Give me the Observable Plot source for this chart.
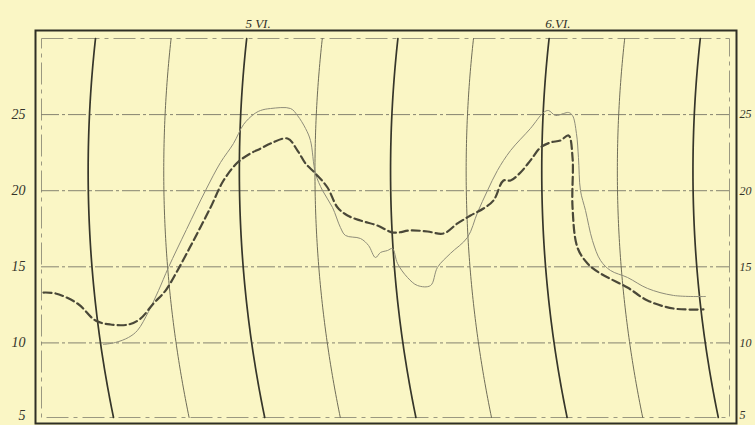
<!DOCTYPE html>
<html><head><meta charset="utf-8">
<script src="https://cdn.jsdelivr.net/npm/d3@7"></script>
<script src="https://cdn.jsdelivr.net/npm/@observablehq/plot@0.6"></script>
<style>html,body{margin:0;padding:0;background:#faf6c5;overflow:hidden}svg{overflow:hidden}</style>
</head><body><div id="chart"></div>
<script>
// Time in hours from 5 VI 0h; temperature in °C
const solidHours = [0.63,1.59,2.62,3.33,4.21,5.00,5.79,7.22,8.73,9.92,10.95,11.75,12.54,13.10,13.89,15.48,16.03,16.67,17.06,17.46,18.02,18.81,19.44,19.84,21.03,21.67,22.22,22.62,23.17,23.57,23.97,24.76,25.56,26.59,27.14,28.17,29.52,30.32,31.11,31.90,32.94,34.52,35.56,35.95,36.51,37.14,37.54,37.86,38.17,38.33,38.49,38.89,39.44,40.08,40.87,42.22,43.81,45.87,48.41];
const solidTemps = [9.90,10.03,10.36,10.82,12.06,13.44,14.96,17.45,20.01,21.85,23.10,24.35,25.01,25.27,25.40,25.40,24.94,24.09,23.30,21.13,20.01,18.90,17.58,17.06,16.86,16.40,15.61,15.94,16.07,16.20,15.22,14.30,13.77,13.77,14.96,15.88,16.93,18.57,20.01,21.33,22.64,24.09,25.14,25.27,24.94,25.07,25.14,24.94,23.76,22.18,20.01,18.70,16.73,15.42,14.76,14.30,13.58,13.12,13.05];
const dashedHours = [-4.13,-3.17,-1.43,0.00,1.19,2.62,3.57,4.60,5.56,6.51,7.78,9.13,10.16,11.27,12.30,13.10,13.89,15.24,16.03,16.67,17.46,18.41,19.21,20.00,21.03,22.38,23.65,25.00,26.35,27.62,28.73,29.76,30.79,31.59,32.38,32.94,33.73,34.52,35.32,36.11,36.90,37.54,37.86,37.86,38.25,39.05,40.08,42.22,43.81,45.87,48.25];
const dashedTemps = [13.31,13.25,12.59,11.47,11.21,11.21,11.60,12.59,13.44,14.76,16.73,18.90,20.67,21.85,22.45,22.77,23.10,23.43,22.64,21.79,21.13,20.21,18.90,18.37,18.04,17.71,17.25,17.39,17.32,17.19,17.85,18.37,18.83,19.36,20.67,20.67,21.20,21.99,22.84,23.17,23.30,23.63,22.18,18.90,16.27,15.22,14.56,13.64,12.79,12.26,12.20];
const timeTicks = [0,6,12,18,24,30,36,42,48];
const tempTicks = [10,15,20,25];
const bottomTick = [5];
const dayLabels = ["5 VI.", "6.VI."];
const dayLabelHours = [12.9, 36.7];

const solid = solidHours.map((h,i)=>({h, T: solidTemps[i]}));
const dashed = dashedHours.map((h,i)=>({h, T: dashedTemps[i]}));

// curved time lines of the recording drum (pen arc)
const Tmin = 5.1, Tmax = 30;
const arcOffset = T => { const t = (Tmax - T)/(Tmax - Tmin); return (18*t - 60*t*(1-t))/12.6; };
const Ts = d3.range(Tmin, Tmax, 0.25).concat([Tmax]);
const arcs = timeTicks.flatMap(h0 => Ts.map(T => ({h0, thick: h0 % 12 === 0, h: h0 + arcOffset(T), T})));

const font = "'Liberation Serif', 'DejaVu Serif', serif";
const chart = Plot.plot({
  width: 755, height: 425,
  marginLeft: 41, marginRight: 26, marginTop: 38, marginBottom: 8,
  x: {domain: [-4.286, 50.317], axis: null},
  y: {domain: [Tmin, Tmax], axis: null},
  style: {background: "#faf6c5", fontFamily: font, overflow: "hidden"},
  marks: [
    Plot.frame({stroke: "#9a9880", strokeWidth: 1, strokeDasharray: "22,5,4,5"}),
    Plot.frame({stroke: "#2f2f25", strokeWidth: 2, insetLeft: -6, insetRight: -7, insetTop: -8, insetBottom: -6}),
    Plot.ruleY(tempTicks, {stroke: "#858370", strokeWidth: 1, strokeDasharray: "18,3,3,3"}),
    Plot.line(arcs.filter(d => !d.thick), {x: "h", y: "T", z: "h0", stroke: "#6f6d58", strokeWidth: 1}),
    Plot.line(arcs.filter(d => d.thick), {x: "h", y: "T", z: "h0", stroke: "#36362a", strokeWidth: 1.7}),
    Plot.line(solid, {x: "h", y: "T", stroke: "#8e8c79", strokeWidth: 1, curve: "catmull-rom"}),
    Plot.line(dashed, {x: "h", y: "T", stroke: "#4a4838", strokeWidth: 2.2, strokeDasharray: "8,4", curve: "catmull-rom"}),
    Plot.text(tempTicks, {y: d => d, text: d => String(d), frameAnchor: "left", dx: -16, textAnchor: "end", fontSize: 14, fontStyle: "italic", fill: "#33332a"}),
    Plot.text(bottomTick, {y: d => d, text: d => String(d), frameAnchor: "left", dx: -16, dy: -4, textAnchor: "end", fontSize: 14, fontStyle: "italic", fill: "#33332a"}),
    Plot.text(tempTicks, {y: d => d, text: d => String(d), frameAnchor: "right", dx: 10, textAnchor: "start", fontSize: 12, fontStyle: "italic", fill: "#33332a"}),
    Plot.text(bottomTick, {y: d => d, text: d => String(d), frameAnchor: "right", dx: 10, dy: -4, textAnchor: "start", fontSize: 12, fontStyle: "italic", fill: "#33332a"}),
    Plot.text(dayLabels, {x: (d,i) => dayLabelHours[i], text: d => d, frameAnchor: "top", dy: -20, fontSize: 13, fontStyle: "italic", fill: "#33332a"})
  ]
});
document.getElementById("chart").appendChild(chart);
</script>
</body></html>
